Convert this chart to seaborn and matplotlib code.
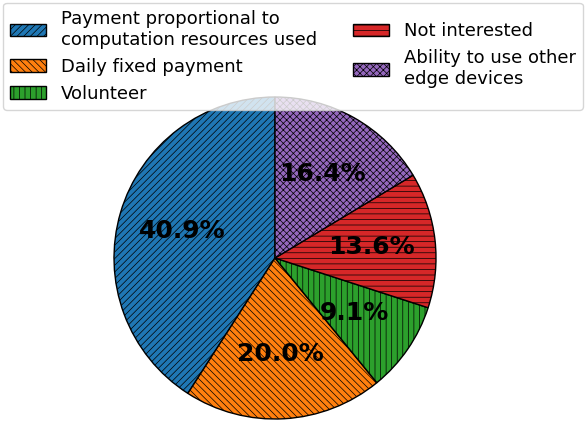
import matplotlib
matplotlib.use("Agg")
import matplotlib.pyplot as plt
import seaborn as sns

labels = ["Payment proportional to\ncomputation resources used",
          "Daily fixed payment",
          "Volunteer",
          "Not interested",
          "Ability to use other\nedge devices"]
values = [40.9, 20.0, 9.1, 13.6, 16.4]
hatches = ["/////", "\\\\\\\\\\", "|||", "---", "xxxxx"]

sns.set_style("white")
plt.rcParams['font.family'] = ['DejaVu Sans']
plt.rcParams['text.color'] = 'black'
plt.rcParams['hatch.linewidth'] = 0.5
colors = sns.color_palette("tab10", 5)

fig = plt.figure(figsize=(5.86, 4.32), dpi=100)
ax = fig.add_axes([114/586, 13/432, 322/586, 322/432])
wedges, texts, autotexts = ax.pie(values, colors=colors, startangle=90,
                                  autopct="%1.1f%%", pctdistance=0.6,
                                  wedgeprops=dict(edgecolor="black", linewidth=1))
for w, h in zip(wedges, hatches):
    w.set_hatch(h)
for t in autotexts:
    t.set_fontsize(18)
    t.set_fontweight("bold")
    t.set_color("black")
ax.set_xlim(-1, 1)
ax.set_ylim(-1, 1)
ax.set_aspect("equal")
ax.axis("off")

leg = fig.legend(wedges, labels, loc="upper center", ncol=2, fontsize=13,
                 bbox_to_anchor=(0.5, 1.0), framealpha=0.8, handlelength=2.0,
                 columnspacing=2.0, borderaxespad=0.15, fancybox=True)
leg.get_frame().set_edgecolor("#cccccc")
for t in leg.get_texts():
    t.set_color("black")
fig.savefig("out.png", dpi=100)
